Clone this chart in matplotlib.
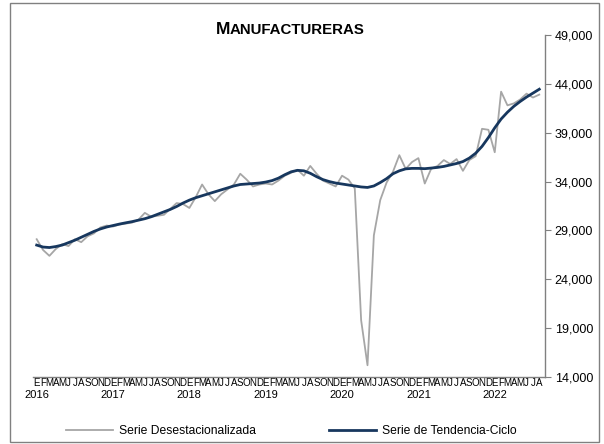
import matplotlib
matplotlib.use("Agg")
import matplotlib.pyplot as plt
from matplotlib.patches import Rectangle

plt.rcParams['font.family'] = ['Liberation Sans', 'DejaVu Sans']

# monthly data Jan 2016 - Aug 2022
month_letters = list("EFMAMJJASOND") * 6 + list("EFMAMJJA")
years = ["2016", "2017", "2018", "2019", "2020", "2021", "2022"]

desest = [28100, 27000, 26400, 27100, 27600, 27400, 28100, 27800, 28400, 28700, 29300, 29500,
          29400, 29600, 29700, 29800, 30100, 30800, 30400, 30500, 30600, 31200, 31800, 31700,
          31300, 32400, 33700, 32700, 32000, 32700, 33200, 33700, 34800, 34200, 33500, 33700,
          33800, 33700, 34100, 34600, 34900, 35200, 34600, 35600, 34800, 34100, 33800, 33500,
          34600, 34200, 33300, 19800, 15200, 28500, 32100, 33900, 35000, 36700, 35300, 36000,
          36400, 33800, 35300, 35600, 36200, 35800, 36300, 35100, 36200, 36600, 39400, 39300,
          37000, 43200, 41800, 42000, 42400, 43000, 42600, 42900]

tendencia = [27500, 27300, 27250, 27350, 27500, 27750, 28000, 28300, 28600, 28900, 29150, 29350,
             29500, 29650, 29780, 29900, 30050, 30200, 30400, 30650, 30900, 31150, 31450, 31800,
             32100, 32350, 32550, 32750, 32950, 33150, 33350, 33550, 33700, 33750, 33800, 33850,
             33950, 34100, 34350, 34700, 35000, 35150, 35100, 34850, 34500, 34200, 34000, 33850,
             33750, 33650, 33550, 33450, 33400, 33550, 33900, 34300, 34800, 35100, 35300, 35350,
             35350, 35320, 35380, 35450, 35550, 35700, 35850, 36050, 36400, 36900, 37600, 38500,
             39500, 40400, 41100, 41700, 42200, 42650, 43050, 43450]

x = list(range(len(desest)))

fig = plt.figure(figsize=(6.04, 4.44), dpi=100)
ax = fig.add_axes([33 / 604, 67 / 444, 512 / 604, 342 / 444])

ax.plot(x, desest, color="#A6A6A6", lw=1.3, label="Serie Desestacionalizada")
ax.plot(x, tendencia, color="#17375E", lw=2.0, label="Serie de Tendencia-Ciclo")

ax.set_xlim(-0.58, 79.9)
ax.set_ylim(14000, 49000)
ax.set_yticks(range(14000, 49001, 5000))
ax.set_yticklabels([f"{v:,}" for v in range(14000, 49001, 5000)], fontsize=9)
ax.yaxis.tick_right()
ax.tick_params(axis="y", direction="out", length=4, color="#808080", pad=3)

ax.set_xticks(x)
ax.set_xticklabels(month_letters, fontsize=7)
ax.tick_params(axis="x", length=0, pad=1)

for i, yr in enumerate(years):
    ax.text(i * 12, -0.053, yr, fontsize=8, ha="center", va="center",
            transform=ax.get_xaxis_transform())

for s in ["left", "top"]:
    ax.spines[s].set_visible(False)
for s in ["right", "bottom"]:
    ax.spines[s].set_color("#808080")
    ax.spines[s].set_linewidth(1.0)

# title in small caps
fig.text(230 / 604, 1 - 34 / 444, "M", fontsize=12.5, fontweight="bold", ha="right", va="baseline")
fig.text(230 / 604, 1 - 34 / 444, "ANUFACTURERAS", fontsize=10.8, fontweight="bold", ha="left", va="baseline")

fig.legend(loc="center", bbox_to_anchor=(291.5 / 604, 1 - 431 / 444), ncol=2, frameon=False,
           fontsize=8.7, handlelength=3.9, columnspacing=6.0, handletextpad=0.5)

fig.patches.append(Rectangle((10 / 604, 2 / 444), 589 / 604, 439 / 444, transform=fig.transFigure,
                             fill=False, edgecolor="#808080", lw=1.0))

fig.savefig("out.png", dpi=100)
